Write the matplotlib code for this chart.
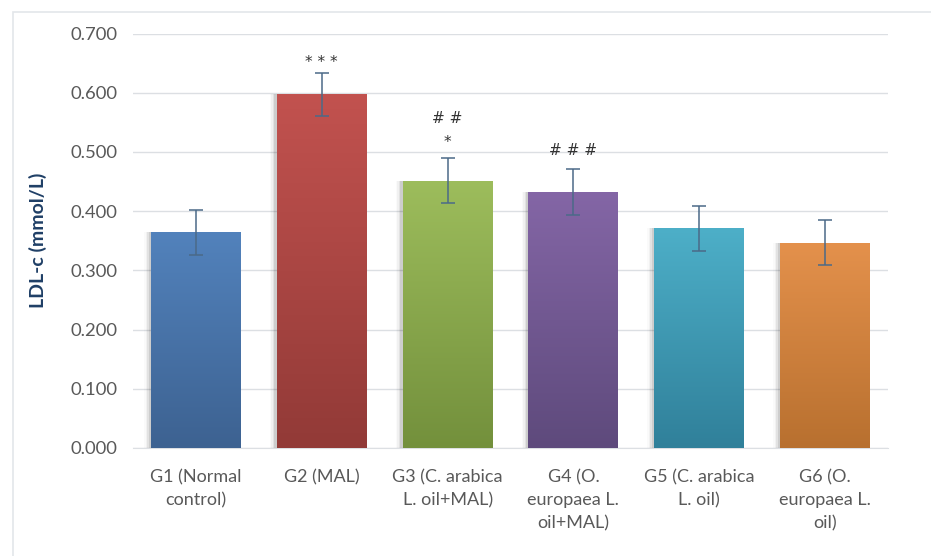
import matplotlib
matplotlib.use("Agg")
import matplotlib.pyplot as plt
import numpy as np
from matplotlib.colors import LinearSegmentedColormap
from matplotlib.patches import Rectangle

categories = ["G1 (Normal\ncontrol)", "G2 (MAL)", "G3 (C. arabica\nL. oil+MAL)",
              "G4 (O.\neuropaea L.\noil+MAL)", "G5 (C. arabica\nL. oil)", "G6 (O.\neuropaea L.\noil)"]
values = [0.364, 0.597, 0.451, 0.433, 0.371, 0.347]
errors = [0.038, 0.037, 0.038, 0.039, 0.038, 0.038]
marks = ["", "* * *", "# #\n*", "# # #", "", ""]
mark_y = [0, 0.638, 0.503, 0.49, 0, 0]
yticks = [0.0, 0.1, 0.2, 0.3, 0.4, 0.5, 0.6, 0.7]

top_colors = ["#5282BC", "#C2524F", "#9DBD5C", "#8466A6", "#4DAFC8", "#E4914C"]
bot_colors = ["#3D6291", "#923A37", "#73903C", "#5E4A7C", "#30809A", "#B8702F"]

plt.rcParams['font.family'] = ['Lato', 'DejaVu Sans']

fig = plt.figure(figsize=(9.31, 5.56), dpi=100)
ax = fig.add_axes([133/931, 1-448/556, (888-133)/931, (448-33.5)/556])

# outer light border
fig.patches.append(Rectangle((13/931, -0.01), 1.0, 1-12/556+0.01, transform=fig.transFigure,
                             fill=False, edgecolor="#E3E6EA", linewidth=1.2))

x = np.arange(len(categories))
width = 0.715

# shadows
for xi, v in zip(x, values):
    for k, a in enumerate([0.09, 0.06, 0.035, 0.02]):
        ax.bar(xi - 0.018 - k*0.012, v, width, color="#000000", alpha=a, zorder=2, linewidth=0)

bars = ax.bar(x, values, width, color=top_colors, zorder=3, linewidth=0)

# gradient fill
for b, tc, bc in zip(bars, top_colors, bot_colors):
    cmap = LinearSegmentedColormap.from_list("g", [bc, tc])
    x0, y0 = b.get_x(), b.get_y()
    w, h = b.get_width(), b.get_height()
    grad = np.linspace(0, 1, 256).reshape(-1, 1)
    im = ax.imshow(grad, extent=[x0, x0 + w, y0, y0 + h], origin="lower",
                   cmap=cmap, aspect="auto", zorder=4)
    im.set_clip_path(b)

ax.errorbar(x, values, yerr=errors, fmt="none", ecolor="#4B6A88", elinewidth=1.1,
            capsize=5, capthick=1.1, zorder=6)

for xi, m, my in zip(x, marks, mark_y):
    if m:
        ax.text(xi, my, m, ha="center", va="bottom", fontsize=11, color="#333333",
                linespacing=1.75, family="DejaVu Sans", zorder=7)

ax.set_xlim(-0.5, len(categories) - 0.5)
ax.set_ylim(0, 0.7)
ax.set_yticks(yticks)
ax.set_yticklabels([f"{t:.3f}" for t in yticks])
ax.set_xticks(x)
ax.set_xticklabels(categories, linespacing=1.55)
ax.grid(axis="y", color="#DCDFE3", linewidth=1.0, zorder=0)
ax.set_axisbelow(True)
for s in ["top", "right", "left"]:
    ax.spines[s].set_visible(False)
ax.spines["bottom"].set_color("#DCDFE3")
ax.tick_params(axis="both", length=0, colors="#595959")
ax.tick_params(axis="y", pad=45, labelsize=13.3)
ax.tick_params(axis="x", pad=15, labelsize=13)
for lbl in ax.get_yticklabels():
    lbl.set_horizontalalignment("left")
ax.set_ylabel("LDL-c (mmol/L)", fontsize=14, fontweight="bold", color="#1F3F66")
ax.yaxis.set_label_coords(-86/755, 0.5)

fig.savefig("out.png", dpi=100, facecolor="white")
